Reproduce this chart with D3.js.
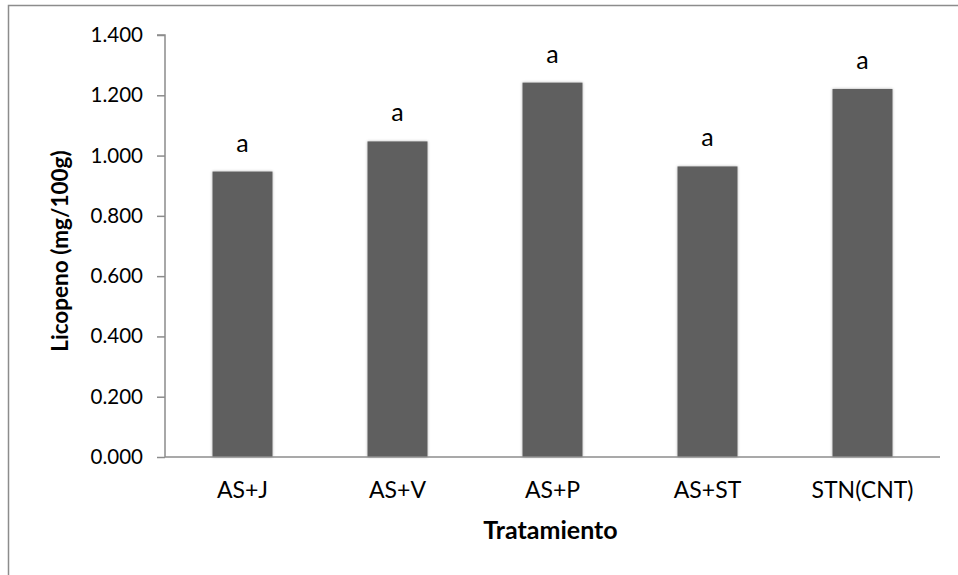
<!DOCTYPE html>
<html>
<head>
<meta charset="utf-8">
<script src="https://cdn.jsdelivr.net/npm/d3@7"></script>
<style>
  html, body { margin: 0; padding: 0; background: #fff; }
  svg { display: block; font-family: Lato, "Open Sans", sans-serif; }
</style>
</head>
<body>
<svg id="chart" width="958" height="575"></svg>
<script>
// Licopeno content per treatment
const categories = ["AS+J", "AS+V", "AS+P", "AS+ST", "STN(CNT)"];
const values = [0.947, 1.047, 1.242, 0.964, 1.221];
const letters = ["a", "a", "a", "a", "a"];
const yTicks = [0, 0.2, 0.4, 0.6, 0.8, 1.0, 1.2, 1.4];

const svg = d3.select("#chart");
const W = 958, H = 575;
const plot = { left: 165, right: 940, top: 35, bottom: 457 };
const FONT = "Lato, sans-serif";

// chart frame
svg.append("rect")
  .attr("x", 8.5).attr("y", 5.5)
  .attr("width", W).attr("height", H)
  .attr("fill", "#fff").attr("stroke", "#8c8c8c").attr("stroke-width", 1.5);

// soft shadow behind bars
const defs = svg.append("defs");
const f = defs.append("filter").attr("id", "shadow")
  .attr("x", "-20%").attr("y", "-5%").attr("width", "140%").attr("height", "110%");
f.append("feGaussianBlur").attr("in", "SourceAlpha").attr("stdDeviation", 1.8).attr("result", "b");
f.append("feComponentTransfer").attr("in", "b").attr("result", "s")
  .append("feFuncA").attr("type", "linear").attr("slope", 0.3);
const m = f.append("feMerge");
m.append("feMergeNode").attr("in", "s");
m.append("feMergeNode").attr("in", "SourceGraphic");

const x = d3.scaleBand().domain(categories)
  .range([plot.left, plot.right]).paddingInner(0.613).paddingOuter(0.3065);
const y = d3.scaleLinear().domain([0, 1.4]).range([plot.bottom, plot.top]);

// bars
svg.append("g").selectAll("rect").data(categories).join("rect")
  .attr("x", d => x(d))
  .attr("y", (d, i) => y(values[i]))
  .attr("width", x.bandwidth())
  .attr("height", (d, i) => y(0) - y(values[i]))
  .attr("fill", "#5f5f5f")
  .attr("filter", "url(#shadow)");

// significance letters
svg.append("g").selectAll("text").data(categories).join("text")
  .attr("x", d => x(d) + x.bandwidth() / 2)
  .attr("y", (d, i) => y(values[i]) - 20)
  .attr("text-anchor", "middle")
  .attr("font-family", FONT)
  .attr("font-size", 25).attr("fill", "#000")
  .text((d, i) => letters[i]);

// y axis
const yAxis = d3.axisLeft(y).tickValues(yTicks)
  .tickFormat(d3.format(".3f")).tickSize(8).tickPadding(14);
const gy = svg.append("g").attr("transform", `translate(${plot.left},0)`).call(yAxis);
gy.selectAll("path, line").attr("stroke", "#8c8c8c").attr("stroke-width", 1.5);
gy.select(".domain").attr("d", `M-8,${plot.top}H0V${plot.bottom}`);
gy.selectAll("text").attr("font-size", 20.5).attr("fill", "#000")
  .attr("font-family", FONT);

// x axis
const gx = svg.append("g").attr("transform", `translate(0,${plot.bottom})`)
  .call(d3.axisBottom(x).tickSize(0).tickPadding(25));
gx.select(".domain").attr("stroke", "#8c8c8c").attr("stroke-width", 1.5)
  .attr("d", `M${plot.left},0H${plot.right}`);
gx.selectAll("text").attr("font-size", 23).attr("fill", "#000")
  .attr("font-family", FONT);

// axis titles
svg.append("text")
  .attr("x", (plot.left + plot.right) / 2 - 2).attr("y", 539)
  .attr("text-anchor", "middle").attr("font-family", FONT)
  .attr("font-size", 25).attr("font-weight", "bold")
  .text("Tratamiento");

svg.append("text")
  .attr("transform", `translate(68,${(plot.top + plot.bottom) / 2 + 5}) rotate(-90)`)
  .attr("text-anchor", "middle").attr("font-family", FONT)
  .attr("font-size", 22.5).attr("font-weight", "bold")
  .text("Licopeno (mg/100g)");
</script>
</body>
</html>
